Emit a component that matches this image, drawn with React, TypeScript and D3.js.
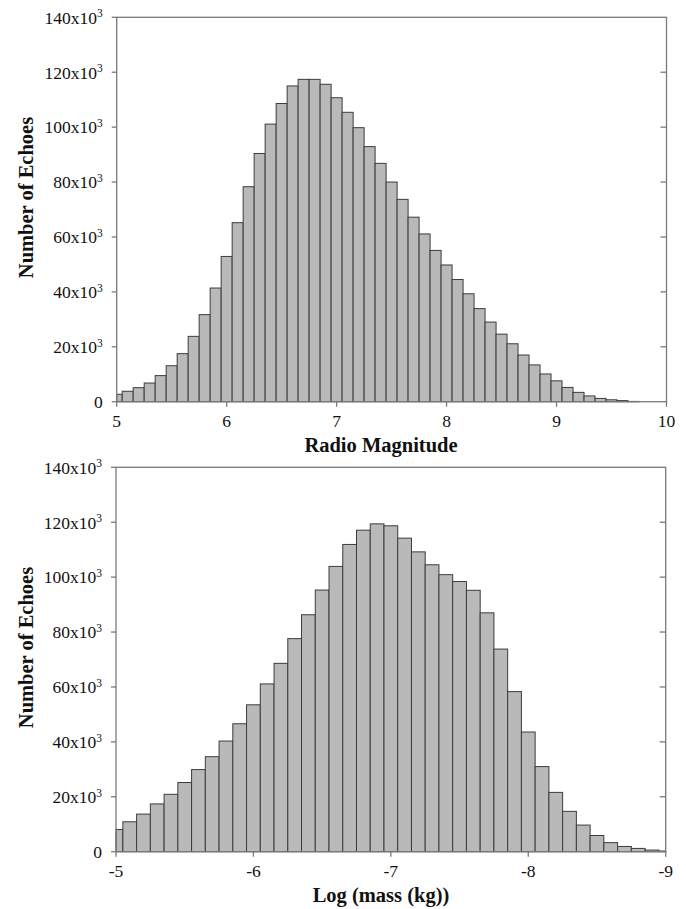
import React from "react";
import * as d3 from "d3";

// Radio magnitude bins (centres) and echo counts in thousands
const magnitudeBins = [
  5.0, 5.1, 5.2, 5.3, 5.4, 5.5, 5.6, 5.7, 5.8, 5.9,
  6.0, 6.1, 6.2, 6.3, 6.4, 6.5, 6.6, 6.7, 6.8, 6.9,
  7.0, 7.1, 7.2, 7.3, 7.4, 7.5, 7.6, 7.7, 7.8, 7.9,
  8.0, 8.1, 8.2, 8.3, 8.4, 8.5, 8.6, 8.7, 8.8, 8.9,
  9.0, 9.1, 9.2, 9.3, 9.4, 9.5, 9.6, 9.7,
];
const magnitudeCounts = [
  2.7, 3.8, 5.1, 6.8, 9.5, 13.1, 17.5, 23.8, 31.7, 41.4,
  52.9, 65.2, 78.3, 90.4, 101.1, 108.6, 115.0, 117.4, 117.4, 115.6,
  110.7, 105.4, 99.8, 92.9, 86.8, 80.0, 73.7, 67.2, 61.1, 55.1,
  49.8, 44.5, 39.3, 33.9, 29.0, 24.6, 21.1, 17.0, 13.4, 10.1,
  7.6, 5.2, 3.4, 2.1, 1.2, 0.7, 0.4, 0.1,
];
const magnitudeTicks = [5, 6, 7, 8, 9, 10];

// Log mass bins (centres) and echo counts in thousands
const massBins = [
  -5.0, -5.1, -5.2, -5.3, -5.4, -5.5, -5.6, -5.7, -5.8, -5.9,
  -6.0, -6.1, -6.2, -6.3, -6.4, -6.5, -6.6, -6.7, -6.8, -6.9,
  -7.0, -7.1, -7.2, -7.3, -7.4, -7.5, -7.6, -7.7, -7.8, -7.9,
  -8.0, -8.1, -8.2, -8.3, -8.4, -8.5, -8.6, -8.7, -8.8, -8.9,
  -9.0,
];
const massCounts = [
  8.1, 10.9, 13.7, 17.4, 20.9, 25.2, 29.9, 34.6, 40.3, 46.6,
  53.5, 61.1, 68.6, 77.6, 86.3, 95.3, 103.9, 111.9, 117.1, 119.4,
  118.7, 114.2, 109.2, 104.5, 100.9, 98.4, 95.2, 87.0, 73.8, 58.3,
  43.6, 31.0, 21.6, 14.7, 9.7, 5.9, 3.3, 1.9, 1.2, 0.6,
  0.25,
];
const massTicks = [-5, -6, -7, -8, -9];

const countTicks = [0, 20, 40, 60, 80, 100, 120, 140];

const BIN_WIDTH = 0.1;
const FONT = "Liberation Serif, Times New Roman, serif";
const FRAME = "#7a7a7a";

type PanelProps = {
  top: number;
  bins: number[];
  counts: number[];
  xDomain: [number, number];
  xTicks: number[];
  xLabel: string;
  left: number;
  right: number;
};

function Panel({ top, bins, counts, xDomain, xTicks, xLabel, left, right }: PanelProps) {
  const height = 384.4;
  const bottom = top + height;
  const x = d3.scaleLinear().domain(xDomain).range([left, right]);
  const y = d3.scaleLinear().domain([0, 140]).range([bottom, top]);
  const lo = Math.min(xDomain[0], xDomain[1]);
  const hi = Math.max(xDomain[0], xDomain[1]);

  const bars = bins.map((c, i) => {
    const a = Math.max(lo, c - BIN_WIDTH / 2);
    const b = Math.min(hi, c + BIN_WIDTH / 2);
    const x0 = Math.min(x(a), x(b));
    const x1 = Math.max(x(a), x(b));
    return { x0, x1, y0: y(counts[i]) };
  });

  const midX = 381;
  const midY = (top + bottom) / 2 - 12;

  return (
    <g>
      {bars.map((b, i) => (
        <rect
          key={i}
          x={b.x0}
          y={b.y0}
          width={b.x1 - b.x0}
          height={bottom - b.y0}
          fill="#b9b9b9"
          stroke="#3c3c3c"
          strokeWidth={1}
        />
      ))}
      {/* frame */}
      <rect x={left} y={top} width={right - left} height={height} fill="none" stroke={FRAME} strokeWidth={1.3} />
      {/* y ticks and labels */}
      {countTicks.map((t) => (
        <g key={t}>
          <line x1={left - 5} x2={left} y1={y(t)} y2={y(t)} stroke={FRAME} strokeWidth={1.3} />
          {t > 0 && t < 140 && (
            <line x1={right - 6} x2={right} y1={y(t)} y2={y(t)} stroke={FRAME} strokeWidth={1.3} />
          )}
          <text
            x={left - 14}
            y={y(t)}
            dy="0.36em"
            textAnchor="end"
            fontFamily={FONT}
            fontSize={17.5}
            fill="#111"
          >
            {t === 0 ? (
              "0"
            ) : (
              <>
                {`${t}x10`}
                <tspan fontSize={11.5} dy="-0.55em">3</tspan>
              </>
            )}
          </text>
        </g>
      ))}
      {/* x ticks and labels */}
      {xTicks.map((t) => (
        <g key={t}>
          <line x1={x(t)} x2={x(t)} y1={bottom} y2={bottom + 5} stroke={FRAME} strokeWidth={1.3} />
          <text
            x={x(t)}
            y={bottom + 25.5}
            textAnchor="middle"
            fontFamily={FONT}
            fontSize={17.5}
            fill="#111"
          >
            {t}
          </text>
        </g>
      ))}
      <text
        x={midX}
        y={bottom + 50}
        textAnchor="middle"
        fontFamily={FONT}
        fontWeight="bold"
        fontSize={20.5}
        fill="#111"
      >
        {xLabel}
      </text>
      <text
        transform={`translate(33,${midY}) rotate(-90)`}
        textAnchor="middle"
        fontFamily={FONT}
        fontWeight="bold"
        fontSize={20.5}
        fill="#111"
      >
        Number of Echoes
      </text>
    </g>
  );
}

export default function App() {
  return (
    <svg
      width={686}
      height={909}
      style={{ position: "absolute", left: 0, top: 0, background: "#fff" }}
    >
      <rect width={686} height={909} fill="#fff" />
      <Panel
        top={17.3}
        bins={magnitudeBins}
        counts={magnitudeCounts}
        xDomain={[5, 10]}
        xTicks={magnitudeTicks}
        xLabel="Radio Magnitude"
        left={116.7}
        right={666.5}
      />
      <Panel
        top={467.3}
        bins={massBins}
        counts={massCounts}
        xDomain={[-5, -9]}
        xTicks={massTicks}
        xLabel="Log (mass (kg))"
        left={116}
        right={665.7}
      />
    </svg>
  );
}
